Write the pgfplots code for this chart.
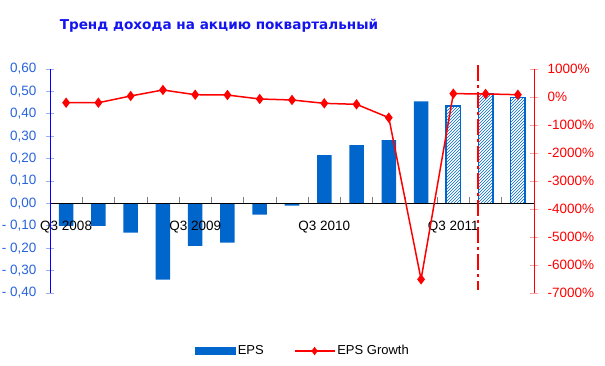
\documentclass[border=0pt]{standalone}
\usepackage{pgfplots}
\pgfplotsset{compat=1.18}
\usepackage{fontspec}
\setmainfont{Liberation Sans}
\newfontfamily\titlefont{DejaVu Sans}
\usetikzlibrary{patterns}
\definecolor{barblue}{RGB}{0,102,204}
\definecolor{lblue}{RGB}{40,100,220}
\definecolor{tickblue}{RGB}{160,175,235}
\definecolor{tickred}{RGB}{255,160,160}
\definecolor{titleblue}{RGB}{20,20,240}
\begin{document}
\begin{tikzpicture}
\path[use as bounding box] (0,0) rectangle (605pt,366pt);
\begin{axis}[
  at={(50pt,73pt)}, anchor=south west, scale only axis, width=484pt, height=224pt,
  xmin=-0.5, xmax=14.5, ymin=-0.4, ymax=0.6,
  axis on top,
  axis x line=middle, axis y line=left, axis line style={-},
  x axis line style={black, line width=0.8pt},
  y axis line style={blue, line width=0.8pt},
  hide obscured x ticks=false, hide obscured y ticks=false,
  ytick={-0.4,-0.3,-0.2,-0.1,0,0.1,0.2,0.3,0.4,0.5,0.6},
  yticklabels={{- 0,40},{- 0,30},{- 0,20},{- 0,10},{0,00},{0,10},{0,20},{0,30},{0,40},{0,50},{0,60}},
  xtick={0,4,8,12}, xticklabels={Q3 2008,Q3 2009,Q3 2010,Q3 2011},
  minor xtick={0.5,1.5,...,13.5},
  tick align=center, major tick length=8pt, minor tick length=6pt,
  y tick style={tickblue, line width=0.8pt},
  major x tick style={draw=none},
  minor x tick style={black!50, line width=0.6pt, yshift=3pt},
  yticklabel style={font=\fontsize{13.5}{16}\selectfont, lblue, xshift=-6pt},
  xticklabel style={font=\fontsize{13.5}{16}\selectfont, black, yshift=-10pt},
  title={\titlefont\bfseries Тренд дохода на акцию поквартальный},
  title style={at={(rel axis cs:0.349,1.165)}, anchor=center, font=\fontsize{13.6}{16}\selectfont, text=titleblue},
  clip=false,
]
\addplot[ybar, bar width=0.45, bar shift=0pt, fill=barblue, draw=none] coordinates {
  (0,-0.10) (1,-0.10) (2,-0.13) (3,-0.34) (4,-0.19) (5,-0.175) (6,-0.05) (7,-0.01)
  (8,0.215) (9,0.26) (10,0.283) (11,0.455)};
\addplot[ybar, bar width=0.45, bar shift=0pt, fill=white, draw=barblue, line width=1.5pt,
  postaction={pattern=north east lines, pattern color=barblue}] coordinates {
  (12,0.435) (13,0.49) (14,0.473)};
\end{axis}
\begin{axis}[
  at={(50pt,73pt)}, anchor=south west, scale only axis, width=484pt, height=224pt,
  xmin=-0.5, xmax=14.5, ymin=-7000, ymax=1000,
  axis x line=none, axis y line*=right, axis line style={-},
  y axis line style={red, line width=0.8pt},
  ytick={-7000,-6000,-5000,-4000,-3000,-2000,-1000,0,1000},
  yticklabels={-7000\%,-6000\%,-5000\%,-4000\%,-3000\%,-2000\%,-1000\%,0\%,1000\%},
  tick align=center, major tick length=8pt,
  y tick style={tickred, line width=0.8pt},
  yticklabel style={font=\fontsize{13.5}{16}\selectfont, red, xshift=6pt},
  clip=false,
  legend columns=2,
  legend style={at={(rel axis cs:0.523,-0.259)}, anchor=center, draw=none, fill=none,
    font=\fontsize{13}{15}\selectfont, /tikz/every even column/.append style={column sep=28pt}},
]
\addlegendimage{legend image code/.code={\fill[barblue] (0pt,-3pt) rectangle (40pt,3.5pt);}}
\addlegendentry{EPS}
\addplot[red, line width=1.5pt, dash pattern=on 16pt off 4pt on 3pt off 4pt, forget plot] coordinates {(12.77,1140) (12.77,-6900)};
\addplot[red, line width=1.5pt, mark=diamond*, mark size=4pt,
  legend image code/.code={\draw[red, line width=1.5pt] (0pt,0pt) -- (40pt,0pt); \fill[red] (20pt,3pt) -- (22.2pt,0pt) -- (20pt,-3pt) -- (17.8pt,0pt) -- cycle;}] coordinates {
  (0,-204) (1,-204) (2,36) (3,250) (4,82) (5,70) (6,-71) (7,-107) (8,-226) (9,-262)
  (10,-738) (11,-6512) (12,119) (13,110) (14,82)};
\addlegendentry{EPS Growth}
\end{axis}
\end{tikzpicture}
\end{document}
